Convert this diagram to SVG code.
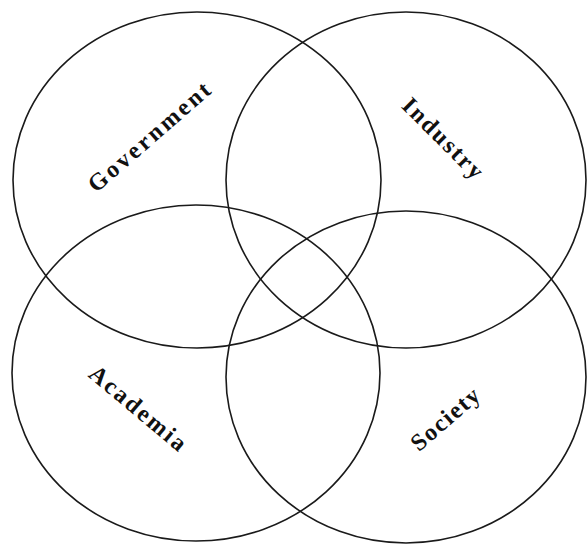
<svg xmlns="http://www.w3.org/2000/svg" width="587" height="544" viewBox="0 0 587 544">
<style>
.c{fill:none;stroke:#1a1a1a;stroke-width:1.6}
.t{font-family:"Liberation Serif","Times New Roman",serif;font-weight:bold;font-size:24px;fill:#111;text-anchor:middle}
</style>
<rect width="587" height="544" fill="#fff"/>
<g id="government"><ellipse class="c" cx="197" cy="180" rx="184" ry="168"/>
<text class="t" x="149" y="145" transform="rotate(-41 149 137)" textLength="154" lengthAdjust="spacing">Government</text></g>
<g id="industry"><ellipse class="c" cx="406" cy="180" rx="180" ry="168"/>
<text class="t" x="443" y="146" transform="rotate(45 443 138)" textLength="104" lengthAdjust="spacing">Industry</text></g>
<g id="academia"><ellipse class="c" cx="196" cy="373" rx="184" ry="168"/>
<text class="t" x="138" y="416" transform="rotate(40 138 408)" textLength="119" lengthAdjust="spacing">Academia</text></g>
<g id="society"><ellipse class="c" cx="406" cy="377" rx="180" ry="166"/>
<text class="t" x="445" y="427" transform="rotate(-41 445 419)" textLength="83" lengthAdjust="spacing">Society</text></g>
<g id="connectors"></g>
</svg>
